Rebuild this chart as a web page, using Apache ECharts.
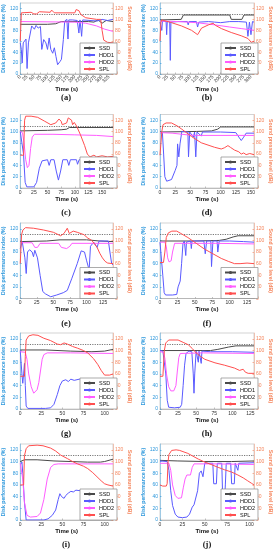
<!DOCTYPE html>
<html><head><meta charset="utf-8">
<script src="https://cdn.jsdelivr.net/npm/echarts@6/dist/echarts.min.js"></script>
<style>html,body{margin:0;padding:0;background:#fff}#c{width:276px;height:550px}</style>
</head><body><div id="c"></div>
<script>
// ---------- data: [time (s), value] ----------
const a_SSD  = [[0,91],[100,91],[130,92],[150,96],[250,96],[270,95],[285,99],[300,93],[315,98],[340,96]];
const a_HDD1 = [[0,57],[4,45],[7,20],[11,57],[16,58],[21,64],[25,10],[30,57],[35,60],[42,88],[52,82],[58,89],[66,84],[74,87],[79,45],[86,63],[94,57],[100,45],[106,66],[112,45],[119,38],[125,48],[131,32],[137,17],[146,23],[151,27],[158,63],[163,97],[171,100],[175,64],[178,99],[191,99],[209,98],[215,75],[219,99],[225,69],[229,99],[234,97],[282,97],[300,100],[320,98],[340,100]];
const a_HDD2 = [[0,96],[200,95],[240,93],[280,88],[310,82],[340,78]];
const a_SPL  = [[0,60],[4,112],[40,113],[50,110],[60,110],[70,114],[110,113],[115,117],[125,112],[200,112],[205,118],[215,116],[222,109],[240,103],[280,100],[295,100],[300,80],[306,62],[320,58],[340,57]];

const b_SSD  = [[0,99],[70,100],[77,108],[230,108],[235,100],[270,100],[277,108],[310,108]];
const b_HDD1 = [[0,95],[4,97],[6,80],[8,97],[20,96],[22,72],[24,96],[32,96],[34,25],[36,95],[60,96],[90,96],[93,90],[96,96],[120,96],[124,86],[128,95],[160,96],[180,95],[200,94],[230,96],[260,96],[285,95],[290,69],[295,95],[300,72],[305,96],[310,95]];
const b_HDD2 = [[0,97],[60,96],[120,94],[180,90],[230,86],[270,83],[310,80]];
const b_SPL  = [[0,60],[3,95],[6,99],[38,94],[71,88],[104,80],[124,72],[137,84],[160,90],[175,93],[183,89],[203,83],[235,76],[268,70],[290,65],[301,58],[310,60]];

const c_SSD  = [[0,101],[50,102],[75,103],[85,104],[90,107],[170,107]];
const c_HDD1 = [[0,100],[3,98],[6,60],[9,10],[12,2],[25,2],[30,10],[35,35],[40,48],[50,50],[53,40],[56,50],[62,50],[66,30],[70,14],[74,30],[78,50],[86,50],[89,40],[92,50],[103,50],[105,42],[108,50],[170,50]];
const c_HDD2 = [[0,100],[4,98],[7,80],[10,50],[13,36],[16,40],[19,70],[22,90],[26,95],[60,95],[100,94],[140,93],[170,91]];
const c_SPL  = [[0,58],[6,58],[8,120],[10,127],[20,127],[32,125],[45,118],[56,112],[65,115],[71,122],[75,118],[77,112],[85,115],[88,124],[90,127],[94,120],[96,112],[99,116],[103,110],[110,95],[118,75],[123,60],[128,55],[135,58],[140,55],[150,57],[160,55],[170,56]];

const d_SSD  = [[0,99],[60,100],[85,101],[95,104],[100,108],[155,108]];
const d_HDD1 = [[0,98],[4,97],[6,60],[8,20],[11,12],[14,10],[19,15],[25,31],[28,40],[29,78],[31,55],[33,78],[36,100],[46,99],[47,55],[49,99],[55,90],[57,99],[59,55],[61,99],[68,92],[70,99],[100,99],[125,98],[130,90],[134,84],[138,90],[142,97],[155,97]];
const d_HDD2 = [[0,98],[20,97],[45,94],[60,93],[155,93]];
const d_SPL  = [[0,58],[2,58],[3,100],[5,112],[10,115],[19,115],[28,110],[36,104],[52,91],[68,80],[90,72],[101,69],[106,71],[112,75],[116,72],[123,67],[130,64],[134,60],[138,62],[142,59],[148,61],[155,59]];

const e_SSD  = [[0,98],[40,99],[60,101],[100,101],[120,99],[140,98]];
const e_HDD1 = [[0,86],[2,87],[3,98],[5,97],[7,70],[9,43],[11,80],[14,84],[18,80],[20,72],[22,83],[24,80],[26,70],[30,40],[34,12],[38,8],[46,3],[55,6],[65,10],[71,14],[78,35],[86,60],[92,82],[97,80],[100,66],[104,49],[106,90],[111,97],[116,88],[119,99],[127,99],[133,99],[136,75],[138,60],[140,58]];
const e_HDD2 = [[0,96],[18,96],[22,88],[26,88],[30,95],[58,95],[62,88],[70,86],[75,90],[78,95],[140,95]];
const e_SPL  = [[0,60],[2,110],[4,118],[8,122],[20,121],[35,118],[50,114],[61,108],[66,112],[71,121],[74,112],[80,116],[86,114],[96,110],[102,104],[108,100],[112,94],[116,88],[120,78],[124,70],[128,64],[132,61],[140,60]];

const f_SSD  = [[0,99],[50,99],[85,100],[95,102],[105,106],[112,108],[135,108]];
const f_HDD1 = [[0,97],[2,96],[4,40],[6,10],[8,6],[18,6],[24,7],[26,20],[29,30],[31,60],[33,95],[35,99],[36,97],[37,74],[38,97],[44,99],[45,86],[46,99],[63,99],[65,77],[67,99],[73,99],[74,55],[76,99],[82,99],[83,80],[85,99],[100,99],[120,98],[135,97]];
const f_HDD2 = [[0,97],[7,97],[9,90],[11,70],[13,63],[16,65],[18,80],[21,95],[40,95],[80,95],[135,94]];
const f_SPL  = [[0,62],[5,62],[7,80],[9,105],[12,113],[17,116],[24,116],[30,112],[40,105],[52,95],[64,85],[76,77],[88,69],[98,64],[107,60],[115,60],[125,61],[135,60]];

const g_SSD  = [[0,101],[30,101],[60,99],[85,98],[100,99],[110,102]];
const g_HDD1 = [[0,100],[1,98],[2,60],[3,44],[4,60],[5,78],[6,40],[7,5],[9,1],[30,1],[36,2],[40,8],[44,25],[47,40],[50,48],[54,50],[57,47],[60,51],[64,49],[70,51],[80,50],[110,50]];
const g_HDD2 = [[0,98],[6,97],[8,85],[10,60],[13,38],[16,27],[18,27],[20,33],[22,45],[24,65],[26,85],[28,93],[32,96],[60,96],[110,95]];
const g_SPL  = [[0,56],[5,56],[6,90],[7,118],[10,125],[15,127],[21,126],[28,121],[36,117],[44,111],[48,110],[52,113],[56,111],[62,107],[68,104],[75,100],[80,96],[87,86],[92,76],[96,66],[100,58],[106,58],[110,60]];

const h_SSD  = [[0,100],[40,100],[70,100],[80,102],[95,106],[105,108],[130,108]];
const h_HDD1 = [[0,100],[4,99],[6,96],[8,60],[10,15],[12,3],[20,2],[28,3],[30,8],[32,40],[34,75],[36,95],[40,99],[44,98],[46,60],[47,27],[48,60],[50,99],[53,80],[54,99],[57,78],[58,99],[70,98],[100,98],[130,97]];
const h_HDD2 = [[0,98],[5,97],[7,85],[9,60],[12,38],[15,31],[19,31],[22,40],[24,65],[26,88],[28,95],[60,96],[130,95]];
const h_SPL  = [[0,56],[4,56],[5,58],[6,100],[8,113],[12,118],[25,118],[32,114],[39,110],[45,103],[50,96],[56,90],[62,85],[76,79],[89,75],[103,70],[110,66],[112,64],[115,68],[118,63],[122,61],[130,61]];

const i_SSD  = [[0,100],[5,103],[20,103],[40,101],[60,100],[80,99],[95,99],[100,100],[110,104]];
const i_HDD1 = [[0,94],[2,99],[3,80],[5,30],[7,0],[15,0],[28,0],[33,2],[38,8],[42,17],[45,35],[47,45],[49,40],[52,37],[54,42],[57,46],[60,49],[63,48],[66,51],[72,50],[80,51],[110,51]];
const i_HDD2 = [[0,97],[2,98],[3,70],[5,30],[8,8],[12,5],[20,6],[24,12],[28,35],[32,70],[36,90],[40,95],[45,96],[110,96]];
const i_SPL  = [[0,60],[4,60],[5,110],[7,122],[10,127],[20,128],[27,127],[36,123],[42,118],[48,111],[56,105],[62,100],[68,96],[75,92],[80,88],[86,81],[91,74],[96,67],[100,62],[104,60],[110,58]];

const j_SSD  = [[0,102],[20,101],[50,100],[80,100],[105,101]];
const j_HDD1 = [[0,101],[8,100],[10,85],[12,50],[14,25],[17,10],[20,5],[25,4],[30,5],[33,10],[36,22],[38,26],[40,28],[42,50],[44,80],[46,84],[48,74],[50,97],[59,97],[60,62],[63,62],[64,97],[69,97],[70,40],[71,5],[72,5],[73,60],[74,97],[79,97],[80,62],[83,62],[84,97],[86,97],[87,85],[88,97],[105,98]];
const j_HDD2 = [[0,97],[10,97],[12,85],[14,60],[17,42],[20,37],[24,38],[26,55],[28,70],[30,77],[34,77],[36,90],[38,96],[60,96],[105,95]];
const j_SPL  = [[0,60],[3,58],[5,60],[7,58],[8,62],[9,100],[10,112],[13,119],[18,120],[22,119],[31,114],[43,104],[50,99],[57,95],[65,90],[72,86],[80,82],[87,77],[93,72],[98,67],[102,63],[105,60]];

const panelLabels = ['(a)','(b)','(c)','(d)','(e)','(f)','(g)','(h)','(i)','(j)'];
const timeMax = [340,310,170,155,140,135,110,130,110,105];
const timeStep = 25;
const yTickLabels = [0,20,40,60,80,100,120];
const seriesNames = ['SSD','HDD1','HDD2','SPL'];
const refLevel = 110;
const panelData = [
  [a_SSD,a_HDD1,a_HDD2,a_SPL],[b_SSD,b_HDD1,b_HDD2,b_SPL],
  [c_SSD,c_HDD1,c_HDD2,c_SPL],[d_SSD,d_HDD1,d_HDD2,d_SPL],
  [e_SSD,e_HDD1,e_HDD2,e_SPL],[f_SSD,f_HDD1,f_HDD2,f_SPL],
  [g_SSD,g_HDD1,g_HDD2,g_SPL],[h_SSD,h_HDD1,h_HDD2,h_SPL],
  [i_SSD,i_HDD1,i_HDD2,i_SPL],[j_SSD,j_HDD1,j_HDD2,j_SPL]
];

// ---------- layout & style ----------
const FONT = 'Liberation Sans';
const colLeft = [19, 160];
const plotW = 94;
const rowTop = [3, 114.5, 223, 333, 444];
const rowH = [71, 73.5, 75.5, 76, 76];
const colors = ['#4a4a4a', '#5a5aff', '#ff5cff', '#ff4f4f'];
const blue = '#2e98dc', orange = '#f5855c';

const grids = [], xAxes = [], yAxes = [], series = [], legends = [], graphics = [];
panelData.forEach((pd, k) => {
  const row = Math.floor(k / 2), col = k % 2;
  const L = colLeft[col], T = rowTop[row], H = rowH[row];
  grids.push({left: L, top: T, width: plotW, height: H, show: true, borderColor: '#c8c8c8', borderWidth: 0.8, backgroundColor: 'transparent'});
  const rot = row === 0 ? 45 : 0;
  xAxes.push({
    type: 'value', gridIndex: k, min: 0, max: timeMax[k], interval: timeStep,
    name: 'Time (s)', nameLocation: 'middle', nameGap: row === 0 ? 12 : 8,
    nameTextStyle: {fontFamily: FONT, fontSize: 6, fontWeight: 'bold', color: '#111'},
    axisLine: {show: true, lineStyle: {color: '#b0b0b0', width: 0.8}},
    axisTick: {show: true, inside: true, length: 1.5, lineStyle: {color: '#999', width: 0.6}},
    axisLabel: {fontFamily: FONT, fontSize: 5, color: '#333', margin: 2, rotate: rot, showMaxLabel: false},
    splitLine: {show: false}
  });
  const yCommon = (side, color, name) => ({
    type: 'value', gridIndex: k, position: side, min: 0, max: 130, interval: 20,
    name: name, nameLocation: 'middle', nameGap: side === 'left' ? 11 : 11, nameRotate: side === 'left' ? 90 : -90,
    nameTextStyle: {fontFamily: FONT, fontSize: 5.2, fontWeight: 'bold', color: color},
    axisLine: {show: true, lineStyle: {color: color, width: 0.8, opacity: 0.5}},
    axisTick: {show: true, inside: true, length: 1.5, lineStyle: {color: color, width: 0.6}},
    axisLabel: {fontFamily: FONT, fontSize: 5, color: color, margin: 2, showMaxLabel: false},
    splitLine: {show: false}
  });
  yAxes.push(yCommon('left', blue, 'Disk performance index (%)'));
  yAxes.push(yCommon('right', orange, 'Sound pressure level (dB)'));
  pd.forEach((arr, s) => {
    const ser = {
      name: seriesNames[s], type: 'line', xAxisIndex: k, yAxisIndex: s === 3 ? 2 * k + 1 : 2 * k,
      data: arr, symbol: 'none', showSymbol: false, animation: false, silent: true,
      lineStyle: {color: colors[s], width: 1}, itemStyle: {color: colors[s]}, z: 2 + s
    };
    if (s === 0) {
      ser.markLine = {symbol: 'none', silent: true, label: {show: false}, animation: false,
        lineStyle: {type: [1.2, 1.2], color: '#555', width: 0.8}, data: [{yAxis: refLevel}]};
    }
    series.push(ser);
  });
  legends.push({
    data: seriesNames, orient: 'vertical', left: L + plotW - 33, top: T + H - 31,
    itemWidth: 11, itemHeight: 4, itemGap: 1, padding: [2, 3, 2, 3],
    backgroundColor: '#fff', borderColor: '#888', borderWidth: 0.7,
    textStyle: {fontFamily: FONT, fontSize: 5.5, color: '#111', padding: [0, 0, 0, -1]},
    selectedMode: false, z: 10
  });
  graphics.push({
    type: 'text', x: L + plotW / 2, y: T + H + (row === 0 ? 24 : 25), z: 20,
    style: {text: panelLabels[k], font: 'bold 8.5px "Liberation Serif"', fill: '#111', textAlign: 'center', textVerticalAlign: 'middle'}
  });
});

const chart = echarts.init(document.getElementById('c'), null, {renderer: 'canvas'});
chart.setOption({
  animation: false, backgroundColor: '#fff',
  grid: grids, xAxis: xAxes, yAxis: yAxes, series: series, legend: legends, graphic: graphics
});
</script></body></html>
